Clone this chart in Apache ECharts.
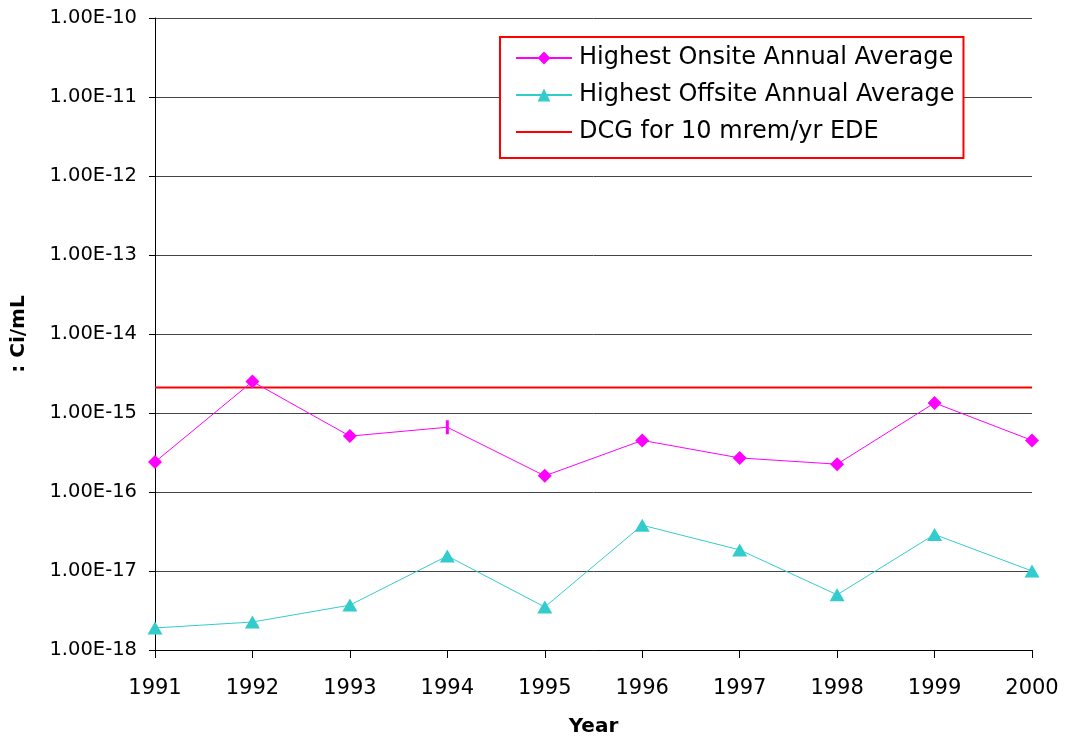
<!DOCTYPE html>
<html>
<head>
<meta charset="utf-8">
<script src="https://cdn.jsdelivr.net/npm/echarts@6/dist/echarts.min.js"></script>
<style>
html, body {margin: 0; padding: 0; background: #fff;}
#chart {width: 1065px; height: 743px;}
</style>
</head>
<body>
<div id="chart"></div>
<script>
var years = ['1991', '1992', '1993', '1994', '1995', '1996', '1997', '1998', '1999', '2000'];
var onsite = [2.4e-16, 2.5e-15, 5.1e-16, 6.6e-16, 1.6e-16, 4.5e-16, 2.7e-16, 2.25e-16, 1.34e-15, 4.5e-16];
var offsite = [1.9e-18, 2.26e-18, 3.7e-18, 1.55e-17, 3.5e-18, 3.8e-17, 1.85e-17, 5.0e-18, 2.9e-17, 1.0e-17];
var dcg = [2.1e-15, 2.1e-15, 2.1e-15, 2.1e-15, 2.1e-15, 2.1e-15, 2.1e-15, 2.1e-15, 2.1e-15, 2.1e-15];

var myChart = echarts.init(document.getElementById('chart'));

// 1994 onsite point is drawn as a short vertical bar in the original
var onsite_data = onsite.map(function(v, i){
	if (years[i] == '1994') return {value: v, symbol: 'rect', symbolSize: [3, 14]};
	return v;
});

var options = {
	animation: false,
	textStyle: {fontFamily: 'DejaVu Sans, sans-serif'},
	grid: {left: 155, right: 33, top: 18, bottom: 93},
	legend: {
		orient: 'vertical',
		left: 500, top: 37,
		padding: [9, 9, 14, 15],
		itemGap: 13,
		itemWidth: 56, itemHeight: 16,
		backgroundColor: '#fff',
		borderColor: '#ff0000', borderWidth: 2, borderRadius: 0,
		textStyle: {fontSize: 24, color: '#000', padding: [0, 0, 0, 2]},
		data: [
			'Highest Onsite Annual Average',
			'Highest Offsite Annual Average',
			{name: 'DCG for 10 mrem/yr EDE', itemStyle: {opacity: 0}}
		]
	},
	xAxis: {
		type: 'category', data: years, boundaryGap: false,
		name: 'Year', nameLocation: 'middle', nameGap: 67,
		nameTextStyle: {fontSize: 20, fontWeight: 'bold', color: '#000'},
		axisLine: {lineStyle: {color: '#000', width: 1}},
		axisTick: {show: true, alignWithLabel: true, length: 8, lineStyle: {color: '#000'}},
		axisLabel: {fontSize: 21, color: '#000', margin: 28},
		splitLine: {show: false}
	},
	yAxis: {
		type: 'log', logBase: 10, min: 1e-18, max: 1e-10,
		name: ': Ci/mL', nameLocation: 'middle', nameGap: 126, nameRotate: 90,
		nameTextStyle: {fontSize: 20, fontWeight: 'bold', color: '#000'},
		axisLine: {show: true, lineStyle: {color: '#000', width: 1}},
		axisTick: {show: true, length: 6, lineStyle: {color: '#000'}},
		axisLabel: {
			fontSize: 19.5, color: '#000', margin: 18,
			formatter: function(v){ return v.toExponential(2).toUpperCase(); }
		},
		minorTick: {show: false},
		splitLine: {show: true, lineStyle: {color: '#444', width: 1}}
	},
	series: [
		{name: 'Highest Onsite Annual Average', type: 'line', data: onsite_data,
			symbol: 'diamond', symbolSize: 14, showAllSymbol: true,
			itemStyle: {color: '#ff00ff'}, lineStyle: {color: '#ff00ff', width: 1}, z: 4},
		{name: 'Highest Offsite Annual Average', type: 'line', data: offsite,
			symbol: 'triangle', symbolSize: [15, 13], showAllSymbol: true,
			itemStyle: {color: '#33cccc'}, lineStyle: {color: '#33cccc', width: 1}, z: 4},
		{name: 'DCG for 10 mrem/yr EDE', type: 'line', data: dcg,
			symbol: 'none', itemStyle: {color: '#ff0000'}, lineStyle: {color: '#ff0000', width: 2}, z: 3}
	]
};

myChart.setOption((options), true);
</script>
</body>
</html>
